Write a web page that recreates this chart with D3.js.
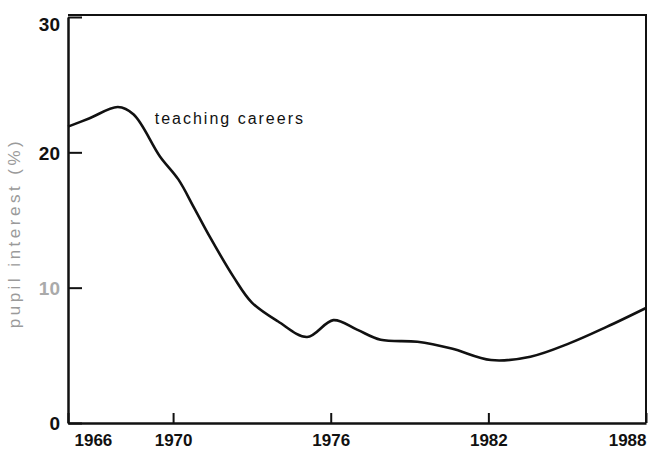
<!DOCTYPE html>
<html>
<head>
<meta charset="utf-8">
<script src="https://cdn.jsdelivr.net/npm/d3@7"></script>
<style>
  body { margin: 0; background: #fff; }
  text { font-family: "Liberation Sans", Arial, sans-serif; }
</style>
</head>
<body>
<div id="chart"></div>
<script>
// teaching careers interest
var years = [1966, 1966.8, 1967.9, 1968.5, 1969.5, 1970.2, 1970.8, 1971.4,
             1972.3, 1973, 1974, 1975.1, 1976.1, 1977, 1977.9, 1979.3, 1980.6, 1982.1,
             1983.6, 1985.1, 1986.5, 1988];
var teaching = [21.9, 22.5, 23.35, 22.8, 19.7, 18.0, 15.9, 13.75,
                10.8, 8.9, 7.5, 6.35, 7.6, 6.9, 6.15, 6.0, 5.5, 4.65,
                4.9, 5.9, 7.1, 8.5];
var xTicks = [1966, 1970, 1976, 1982, 1988];
var yTicks = [0, 10, 20, 30];
var seriesLabel = "teaching careers";
var yLabel = "pupil interest (%)";

var W = 651, H = 451;
var margin = {top: 15, right: 5, bottom: 28, left: 68},
    width = W - margin.left - margin.right,
    height = H - margin.top - margin.bottom;

var svg = d3.select("#chart").append("svg")
    .attr("width", W)
    .attr("height", H)
    .append("g")
    .attr("transform", "translate(" + margin.left + "," + margin.top + ")");

var x = d3.scaleLinear().domain([1966, 1988]).range([0, width]);
var y = d3.scaleLinear().domain([0, 30]).range([height, 2]);

// frame (top and right)
svg.append("path")
    .attr("d", "M0,0H" + width + "V" + height)
    .attr("fill", "none")
    .attr("stroke", "#111")
    .attr("stroke-width", 2);

// Y axis
var yAxis = svg.append("g")
    .call(d3.axisLeft(y).tickValues(yTicks).tickSizeInner(-14).tickSizeOuter(0).tickPadding(8));
yAxis.select(".domain").attr("stroke", "#111").attr("stroke-width", 2.5);
yAxis.selectAll(".tick line").attr("stroke", "#111").attr("stroke-width", 2);
yAxis.selectAll(".tick text")
    .style("font-size", "19px")
    .style("font-weight", "bold")
    .attr("fill", function (d) { return d === 10 ? "#aaa" : "#111"; })
    .attr("dy", function (d) { return d === 30 ? "0.7em" : "0.36em"; });

// X axis
var xAxis = svg.append("g")
    .attr("transform", "translate(0," + height + ")")
    .call(d3.axisBottom(x).tickValues(xTicks).tickFormat(d3.format("d"))
        .tickSizeInner(-10).tickSizeOuter(0).tickPadding(11));
xAxis.select(".domain").attr("stroke", "#111").attr("stroke-width", 2.5);
xAxis.selectAll(".tick line").attr("stroke", "#111").attr("stroke-width", 2);
xAxis.selectAll(".tick text")
    .style("font-size", "17px")
    .style("font-weight", "bold")
    .attr("fill", "#111")
    .attr("text-anchor", function (d) {
        return d === 1966 ? "start" : d === 1988 ? "end" : "middle";
    })
    .attr("x", function (d) { return d === 1966 ? 6 : 0; });

// y axis title (faded in the scan)
svg.append("text")
    .attr("transform", "translate(" + (-48) + "," + 218 + ") rotate(-90)")
    .attr("text-anchor", "middle")
    .style("font-size", "17px")
    .style("letter-spacing", "3.5px")
    .attr("fill", "#9a9a9a")
    .text(yLabel);

// the curve
var line = d3.line()
    .x(function (d) { return x(d[0]); })
    .y(function (d) { return y(d[1]); })
    .curve(d3.curveCatmullRom.alpha(0.5));

svg.append("path")
    .datum(d3.zip(years, teaching))
    .attr("fill", "none")
    .attr("stroke", "#111")
    .attr("stroke-width", 2.6)
    .attr("d", line);

// series label
svg.append("text")
    .attr("x", x(1969.3))
    .attr("y", y(22.1))
    .style("font-size", "16px")
    .style("letter-spacing", "2px")
    .attr("fill", "#111")
    .text(seriesLabel);
</script>
</body>
</html>
